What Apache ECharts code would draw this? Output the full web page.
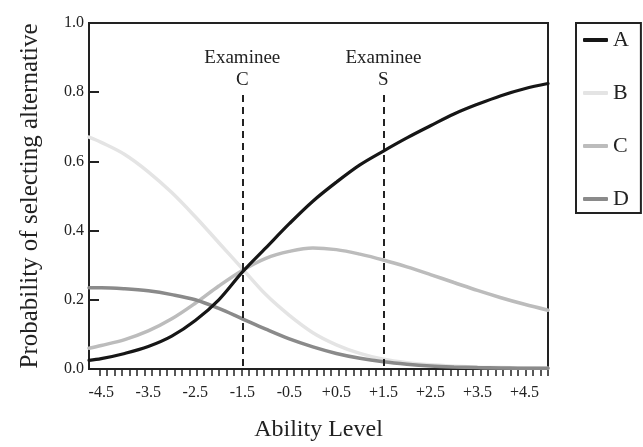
<!DOCTYPE html>
<html>
<head>
<meta charset="utf-8">
<script src="https://cdn.jsdelivr.net/npm/echarts@6/dist/echarts.min.js"></script>
<style>
  html, body { margin: 0; padding: 0; background: #fff; }
  #chart { width: 643px; height: 447px; }
</style>
</head>
<body>
<div id="chart"></div>
<script>
// Ability levels (theta) at which curves were read
const theta = [-4.76, -4.5, -4, -3.5, -3, -2.5, -2, -1.5, -1, -0.5, 0, 0.5, 1, 1.5, 2, 2.5, 3, 3.5, 4, 4.5, 5];
// Probability of selecting each alternative
const altA = [0.025, 0.03, 0.045, 0.065, 0.095, 0.14, 0.20, 0.28, 0.35, 0.42, 0.485, 0.54, 0.59, 0.63, 0.668, 0.703, 0.737, 0.765, 0.79, 0.81, 0.825];
const altB = [0.67, 0.655, 0.62, 0.57, 0.51, 0.44, 0.365, 0.29, 0.215, 0.155, 0.105, 0.07, 0.045, 0.028, 0.018, 0.012, 0.008, 0.005, 0.004, 0.003, 0.002];
const altC = [0.06, 0.068, 0.085, 0.11, 0.145, 0.19, 0.24, 0.285, 0.32, 0.34, 0.35, 0.345, 0.332, 0.315, 0.295, 0.273, 0.25, 0.227, 0.206, 0.187, 0.17];
const altD = [0.235, 0.235, 0.232, 0.226, 0.215, 0.20, 0.175, 0.145, 0.115, 0.087, 0.064, 0.045, 0.031, 0.021, 0.014, 0.009, 0.006, 0.004, 0.003, 0.002, 0.002];
// Tick labels on the ability axis
const xLabels = [-4.5, -3.5, -2.5, -1.5, -0.5, 0.5, 1.5, 2.5, 3.5, 4.5];
// Examinee markers
const examinees = [
  { name: 'Examinee\nC', theta: -1.5 },
  { name: 'Examinee\nS', theta: 1.5 }
];
const markerTop = 0.792;

const FONT = '"Liberation Serif", "DejaVu Serif", serif';
const INK = '#222';

// minor tick positions along the ability axis
const tickStart = -4.533, tickStep = 0.1588;
const xTicks = [];
for (let v = tickStart; v <= 5.0001; v += tickStep) xTicks.push(+v.toFixed(4));

function pairs(arr) { return theta.map((t, i) => [t, arr[i]]); }

const colors = { A: '#161616', B: '#e4e4e4', C: '#bcbcbc', D: '#8a8a8a' };

function lineSeries(name, arr, width, z) {
  return {
    name: name,
    type: 'line',
    data: pairs(arr),
    smooth: 0.35,
    symbol: 'none',
    z: z,
    lineStyle: { color: colors[name], width: width, cap: 'round' },
    itemStyle: { color: colors[name] }
  };
}

const series = [
  lineSeries('B', altB, 3.5, 2),
  lineSeries('C', altC, 3.5, 3),
  lineSeries('D', altD, 3.5, 4),
  lineSeries('A', altA, 3.2, 5)
];

series.push({
  type: 'line',
  data: [],
  silent: true,
  markLine: {
    silent: true,
    symbol: ['none', 'none'],
    animation: false,
    lineStyle: { color: INK, width: 2, type: [7, 5] },
    label: {
      show: true,
      position: 'start',
      distance: 4,
      fontFamily: FONT,
      fontSize: 19,
      lineHeight: 22,
      color: INK,
      align: 'center',
      formatter: p => p.data.name || p.name
    },
    data: examinees.map(e => [
      { name: e.name, coord: [e.theta, markerTop] },
      { coord: [e.theta, 0] }
    ])
  }
});

const chart = echarts.init(document.getElementById('chart'), null, { renderer: 'canvas' });
chart.setOption({
  animation: false,
  backgroundColor: '#fff',
  grid: {
    left: 89, right: 95, top: 23, bottom: 71,
    show: true, borderColor: INK, borderWidth: 2, backgroundColor: 'transparent'
  },
  legend: {
    orient: 'vertical',
    left: 576, top: 23,
    padding: [6, 12, 3, 7],
    itemGap: 31,
    itemWidth: 25, itemHeight: 4,
    icon: 'roundRect',
    borderColor: INK, borderWidth: 2,
    data: ['A', 'B', 'C', 'D'],
    textStyle: { fontFamily: FONT, fontSize: 22, lineHeight: 22, color: INK }
  },
  xAxis: {
    type: 'value',
    min: -4.76, max: 5.0,
    name: 'Ability Level',
    nameLocation: 'middle',
    nameGap: 49,
    nameTextStyle: { fontFamily: FONT, fontSize: 24, color: INK },
    axisLine: { show: true, onZero: false, lineStyle: { color: INK, width: 2 } },
    axisTick: { show: true, inside: false, length: 7, customValues: xTicks, lineStyle: { color: INK, width: 1.5 } },
    axisLabel: {
      customValues: xLabels,
      margin: 16,
      fontFamily: FONT, fontSize: 16, color: INK,
      formatter: v => (v > 0 ? '+' : '') + v.toFixed(1)
    },
    splitLine: { show: false }
  },
  yAxis: {
    type: 'value',
    min: 0, max: 1, interval: 0.2,
    name: 'Probability of selecting alternative',
    nameLocation: 'middle',
    nameGap: 46,
    nameTextStyle: { fontFamily: FONT, fontSize: 25, color: INK },
    axisLine: { show: true, onZero: false, lineStyle: { color: INK, width: 2 } },
    axisTick: { show: true, inside: true, length: 10, lineStyle: { color: INK, width: 2 } },
    axisLabel: {
      margin: 5,
      fontFamily: FONT, fontSize: 16, color: INK,
      padding: [0, 0, 5, 0],
      formatter: v => v.toFixed(1)
    },
    splitLine: { show: false }
  },
  series: series
});
</script>
</body>
</html>
